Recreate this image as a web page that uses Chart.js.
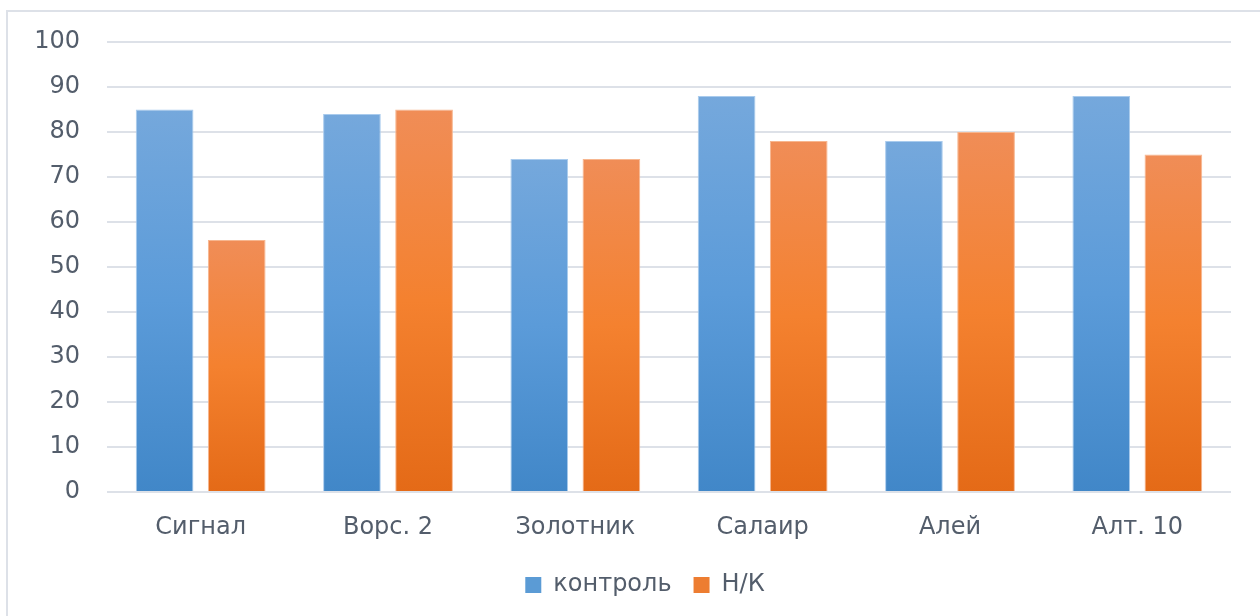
<!DOCTYPE html>
<html>
<head>
<meta charset="utf-8">
<script src="https://cdn.jsdelivr.net/npm/chart.js@4/dist/chart.umd.min.js"></script>
<style>
    html, body { margin: 0; padding: 0; background: #fff; }
    #wrap { position: relative; width: 1260px; height: 616px; overflow: hidden; }
    #frame {
        position: absolute; left: 6px; top: 10px; width: 1300px; height: 700px;
        border-left: 2px solid #dde1e8; border-top: 2px solid #dde1e8;
    }
    canvas { position: absolute; left: 0; top: 0; }
</style>
</head>
<body>
<div id="wrap">
    <div id="frame"></div>
    <canvas id="chart" width="1260" height="616"></canvas>
</div>
<script>
// Chart data
const categories = ['Сигнал', 'Ворс. 2', 'Золотник', 'Салаир', 'Алей', 'Алт. 10'];
const kontrol = [85, 84, 74, 88, 78, 88];
const nk = [56, 85, 74, 78, 80, 75];
const yTicks = [0, 10, 20, 30, 40, 50, 60, 70, 80, 90, 100];

const textColor = '#535d6b';
const gridColor = '#dde1e8';
const labelFont = { family: 'DejaVu Sans', size: 24 };

// vertical gradient for each bar, from its top down to zero
function barGradient(top, mid, bottom) {
    return (ctx) => {
        const chart = ctx.chart;
        const y = chart.scales.y;
        if (!y || ctx.parsed === undefined) return bottom;
        const y0 = y.getPixelForValue(ctx.parsed.y);
        const y1 = y.getPixelForValue(0);
        if (!isFinite(y0) || !isFinite(y1) || y0 === y1) return bottom;
        const g = chart.ctx.createLinearGradient(0, y0, 0, y1);
        g.addColorStop(0, top);
        g.addColorStop(0.5, mid);
        g.addColorStop(1, bottom);
        return g;
    };
}

// centre the legend under the plot like the original
const legendShift = {
    id: 'legendShift',
    afterLayout(chart) {
        if (chart.legend) chart.legend.left = 59;
    }
};

const chart = new Chart(document.getElementById('chart'), {
    type: 'bar',
    data: {
        labels: categories,
        datasets: [
            {
                label: 'контроль',
                data: kontrol,
                backgroundColor: barGradient('#75a8dc', '#5b9bd9', '#4187c8'),
                borderColor: '#a9cbed',
                borderWidth: 1,
                categoryPercentage: 0.77,
                barPercentage: 0.8
            },
            {
                label: 'Н/К',
                data: nk,
                backgroundColor: barGradient('#f08d57', '#f4812f', '#e46a17'),
                borderColor: '#f7b68f',
                borderWidth: 1,
                categoryPercentage: 0.77,
                barPercentage: 0.8
            }
        ]
    },
    options: {
        responsive: false,
        animation: false,
        layout: { padding: { left: 0, right: 29, top: 42, bottom: 9 } },
        plugins: {
            tooltip: { enabled: false },
            legend: {
                position: 'bottom',
                labels: {
                    color: textColor,
                    font: labelFont,
                    boxWidth: 16,
                    boxHeight: 16,
                    padding: 22,
                    generateLabels: (c) => c.data.datasets.map((ds, i) => ({
                        text: ds.label,
                        fillStyle: i === 0 ? '#5b9bd5' : '#ed7d31',
                        strokeStyle: i === 0 ? '#5b9bd5' : '#ed7d31',
                        lineWidth: 0,
                        fontColor: textColor,
                        datasetIndex: i
                    }))
                }
            }
        },
        scales: {
            x: {
                grid: { display: false },
                border: { display: false },
                ticks: { color: textColor, font: labelFont, padding: 13 },
                afterFit: (s) => { s.height = 59; }
            },
            y: {
                min: 0,
                max: 100,
                afterBuildTicks: (s) => { s.ticks = yTicks.map(v => ({ value: v })); },
                grid: { color: gridColor, lineWidth: 2, drawTicks: false },
                border: { display: false },
                ticks: { color: textColor, font: labelFont, padding: 27 },
                afterFit: (s) => { s.width = 107; }
            }
        }
    },
    plugins: [legendShift]
});
</script>
</body>
</html>
